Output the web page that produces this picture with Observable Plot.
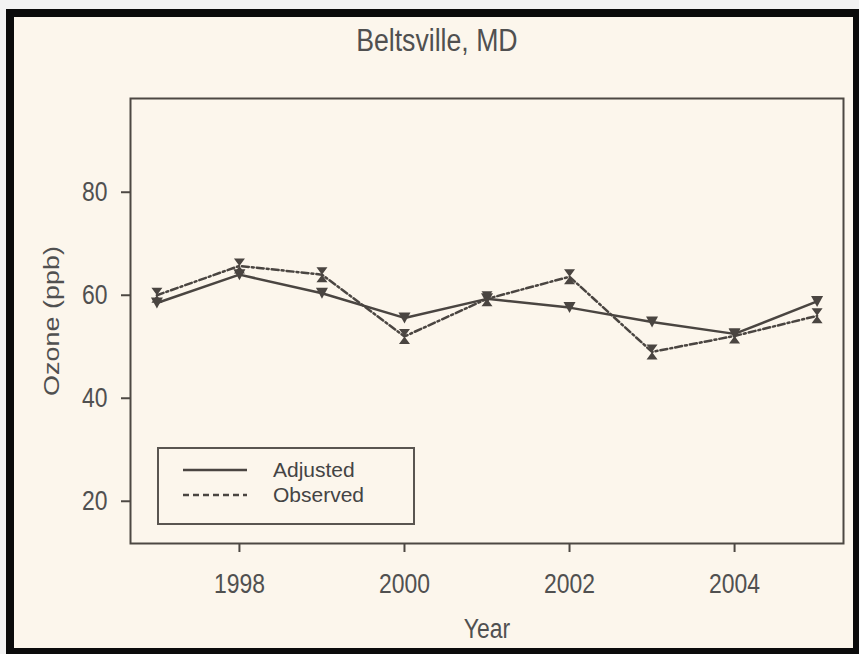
<!DOCTYPE html>
<html>
<head>
<meta charset="utf-8">
<script src="https://cdn.jsdelivr.net/npm/d3@7"></script>
<script src="https://cdn.jsdelivr.net/npm/@observablehq/plot@0.6"></script>
<style>
  html, body { margin: 0; padding: 0; }
  body { width: 859px; height: 654px; background: #f2f2f2; position: relative; overflow: hidden;
         font-family: "Liberation Sans", Arial, sans-serif; }
  #frame { position: absolute; left: 6px; top: 9px; width: 853px; height: 645px; box-sizing: border-box;
           border: 8px solid #0b0b0b; border-right-width: 6px; border-bottom-width: 6px; background: #fcf6ec; }
  #title { position: absolute; left: 0; width: 874px; top: 23px; text-align: center; color: #505050; }
  #title span { display: inline-block; font-size: 31px; transform: scaleX(0.86); }
  #chart { position: absolute; left: 0; top: 0; }
  #legend { position: absolute; left: 157px; top: 447px; width: 258px; height: 78px; box-sizing: border-box;
            border: 2px solid #5a5550; }
  #legend .row { position: absolute; left: 0; height: 22px; display: flex; align-items: center; }
  #legend svg { margin-left: 24px; }
  #legend span { margin-left: 26px; font-size: 21px; line-height: 22px; color: #444; display: inline-block; }
</style>
</head>
<body>
<div id="frame"></div>
<div id="title"><span>Beltsville, MD</span></div>
<div id="chart"></div>
<div id="legend">
  <div class="row" style="top:10px"><svg width="64" height="6"><line x1="0" y1="3" x2="64" y2="3" stroke="#4a4541" stroke-width="2.5"/></svg><span>Adjusted</span></div>
  <div class="row" style="top:35px"><svg width="64" height="6"><line x1="0" y1="3" x2="64" y2="3" stroke="#4a4541" stroke-width="2.5" stroke-dasharray="6,4"/></svg><span>Observed</span></div>
</div>
<script>
const years = [1997, 1998, 1999, 2000, 2001, 2002, 2003, 2004, 2005];
const adjusted = [58.5, 64.0, 60.4, 55.6, 59.3, 57.6, 54.8, 52.5, 58.8];
const observed = [60.0, 65.7, 64.0, 52.0, 59.3, 63.6, 49.0, 52.1, 56.0];
const xTicks = [1998, 2000, 2002, 2004];
const yTicks = [20, 40, 60, 80];
const xLabel = "Year";
const yLabel = "Ozone (ppb)";

const adjData = years.map((y, i) => ({year: y, value: adjusted[i]}));
const obsData = years.map((y, i) => ({year: y, value: observed[i]}));

const triDown = {draw(ctx, size) { const w = 6, h = 5.5; ctx.moveTo(-w, -h); ctx.lineTo(w, -h); ctx.lineTo(0, h); ctx.closePath(); }};
const hourglass = {draw(ctx, size) { const w = 5.5, h = 7.5; ctx.moveTo(-w, -h); ctx.lineTo(w, -h); ctx.lineTo(-w, h); ctx.lineTo(w, h); ctx.closePath(); }};

const ink = "#4a4541";
const textFill = "#505050";
const chart = Plot.plot({
  width: 859,
  height: 654,
  marginLeft: 130,
  marginRight: 16,
  marginTop: 98,
  marginBottom: 111,
  style: {background: "transparent", fontFamily: '"Liberation Sans", Arial, sans-serif', color: textFill},
  x: {domain: [1996.68, 2005.32]},
  y: {domain: [11.8, 98.2]},
  marks: [
    Plot.frame({stroke: "#4d4843", strokeWidth: 2}),
    Plot.axisX({ticks: xTicks, tickFormat: "d", tickSize: 9, tickPadding: 21, stroke: "#4d4843", strokeWidth: 2, label: null, fill: textFill, fontSize: 27}),
    Plot.axisY({ticks: yTicks, tickSize: 9, tickPadding: 14, stroke: "#4d4843", strokeWidth: 2, label: null, fill: textFill, fontSize: 27}),
    Plot.text([yLabel], {frameAnchor: "left", dx: -79, rotate: -90, textAnchor: "middle", lineAnchor: "middle", fontSize: 27, fill: textFill}),
    Plot.text([xLabel], {frameAnchor: "bottom", dy: 86, textAnchor: "middle", lineAnchor: "middle", fontSize: 27, fill: textFill}),
    Plot.line(adjData, {x: "year", y: "value", stroke: ink, strokeWidth: 2.5}),
    Plot.line(obsData, {x: "year", y: "value", stroke: ink, strokeWidth: 2.5, strokeDasharray: "7,3,2,3"}),
    Plot.dot(adjData, {x: "year", y: "value", symbol: triDown, fill: ink, stroke: "none"}),
    Plot.dot(obsData, {x: "year", y: "value", symbol: hourglass, fill: ink, stroke: "none"})
  ]
});
// condense glyphs horizontally, like the narrow lettering of the reference
chart.querySelectorAll("text").forEach(t => {
  const tr = t.getAttribute("transform");
  if (tr) {
    t.setAttribute("transform", tr + (tr.includes("rotate") ? " scale(1,0.85)" : " scale(0.85,1)"));
  } else {
    const x = +t.getAttribute("x") || 0, y = +t.getAttribute("y") || 0;
    t.setAttribute("transform", `translate(${x},${y}) scale(0.85,1) translate(${-x},${-y})`);
  }
});
document.getElementById("chart").appendChild(chart);
</script>
</body>
</html>
